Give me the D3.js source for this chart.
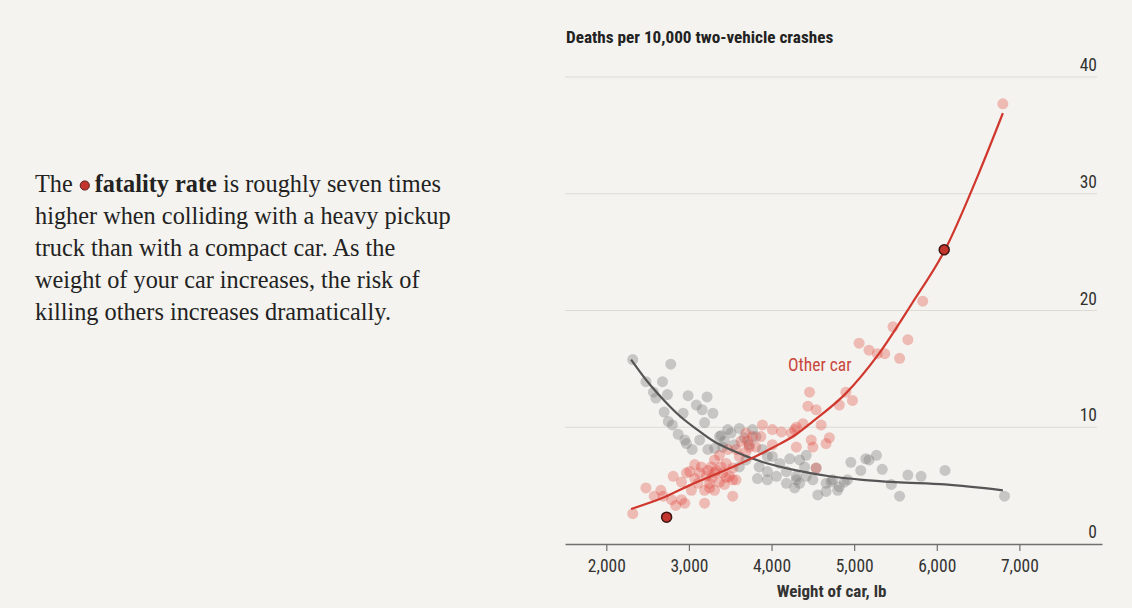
<!DOCTYPE html>
<html><head><meta charset="utf-8">
<script src="https://cdn.jsdelivr.net/npm/d3@7"></script>
<style>
body{margin:0;background:#f4f3ef;}
svg{display:block;}
.sans{font-family:'Roboto Condensed','Liberation Sans Narrow',Roboto,sans-serif;}
</style></head><body>
<svg id="c" width="1132" height="608"></svg>
<script>
// ---------- data ----------
const xTicks = [2000, 3000, 4000, 5000, 6000, 7000];
const yTicks = [0, 10, 20, 30, 40];

// "Your car" (gray) scatter
const grayWeights = [2320,2780,2480,2680,2570,2740,2600,2990,3220,3090,3160,3290,2700,2930,2750,3190,2800,2870,2950,3390,3470,3430,3510,3130,3230,3410,2970,3770,3810,3890,4010,4100,4220,4340,4420,3850,3950,4060,4180,4340,4420,4540,4500,4660,4740,4800,4560,4660,4960,5080,5140,3690,3610,4180,3550,3950,3830,3950,4300,4820,4920,4280,5180,5270,5340,5450,5550,5650,5810,6100,6820,4720,4880,4300,4400,3370,3610,3670,3730,3310,3040];
const grayRates   = [15.8,15.4,13.9,13.9,13.0,12.8,12.5,12.7,12.6,11.9,11.5,11.2,11.3,11.2,10.5,10.4,10.2,9.4,8.9,9.3,9.8,8.8,9.5,8.9,8.1,8.3,8.6,9.8,9.2,8.1,7.5,6.9,7.3,7.2,7.6,6.6,6.2,5.8,6.2,5.2,5.8,6.5,5.5,5.2,5.5,4.6,4.2,4.5,7.0,6.3,7.3,7.2,6.6,5.2,8.5,7.5,5.6,5.5,5.5,4.9,5.5,4.8,7.2,7.6,6.4,5.1,4.1,5.9,5.8,6.3,4.1,5.3,5.3,5.8,6.6,9.2,9.9,9.1,8.5,8.2,8.1];

// "Other car" (red) scatter
const redWeights = [2320,2480,2660,2810,2910,2970,3070,3150,3230,3310,3390,2580,2690,2790,2910,2950,3190,3030,3110,3250,3310,3430,3490,3070,3210,3010,3130,3330,3410,3250,3570,3530,3610,3690,3810,3870,3890,4010,4120,4240,4300,4480,4500,4440,4460,4540,4600,4660,4700,4900,4980,4540,3690,3770,3730,3630,3570,3470,3370,3310,3450,3270,3530,4300,4380,3710,4010,3530,4820,5830,5470,5650,5060,5180,5280,5370,5550,4280,6800,2840,3280,3370,3450,3190];
const redRates   = [2.6,4.8,4.6,5.8,5.3,6.1,6.8,6.6,6.3,6.1,6.6,4.1,4.1,3.8,3.8,3.5,3.5,4.6,5.2,5.2,4.6,5.1,5.8,5.6,5.8,6.2,6.1,6.3,6.1,4.8,5.5,4.1,7.5,7.9,8.3,9.2,10.2,9.8,9.6,9.5,8.3,8.9,8.3,11.8,13.0,11.5,10.2,8.6,9.1,13.0,12.3,6.5,9.5,9.2,8.3,8.8,8.1,8.1,7.6,7.2,6.9,6.6,6.5,10.0,10.3,8.8,8.5,5.5,11.9,20.8,18.6,17.5,17.2,16.6,16.3,16.3,15.9,9.8,37.7,3.3,5.7,5.3,5.7,4.6];

// fitted curves
const redCurveWeights  = [2300,2700,3000,3500,4000,4300,4500,4900,5300,5700,6100,6500,6800];
const redCurveRates    = [3.0,4.0,5.0,6.5,8.2,9.4,10.5,12.9,16.3,20.6,25.2,31.6,36.9];
const grayCurveWeights = [2300,2500,2700,2900,3100,3300,3500,3900,4300,4700,5100,5500,6100,6800];
const grayCurveRates   = [15.8,13.9,12.3,10.9,9.8,8.8,8.1,7.0,6.3,5.8,5.5,5.3,5.1,4.6];

// highlighted points
const highlightWeights = [2730, 6090];
const highlightRates   = [2.3, 25.2];

const titleText = "Deaths per 10,000 two-vehicle crashes";
const xTitle = "Weight of car, lb";
const seriesLabel = "Other car";

// ---------- drawing ----------
const svg = d3.select("#c");
const x = d3.scaleLinear().domain([1500, 8000]).range([565, 1102]);
const y = d3.scaleLinear().domain([0, 40]).range([544, 77]);
const gridRight = 1097;
const sansFont = "'Roboto Condensed','Liberation Sans Narrow',Roboto,sans-serif";

// gridlines
svg.append("g").selectAll("line").data(yTicks.filter(d => d > 0)).join("line")
  .attr("x1", x.range()[0]).attr("x2", gridRight)
  .attr("y1", d => y(d)).attr("y2", d => y(d))
  .attr("stroke", "#dcdbd5").attr("stroke-width", 1);

// y labels
svg.append("g").attr("class", "sans").selectAll("text").data(yTicks).join("text")
  .attr("x", gridRight).attr("y", d => y(d) - 6)
  .attr("text-anchor", "end").attr("font-size", 17.5).attr("fill", "#333")
  .text(d => d);

// x axis
const xAxis = svg.append("g").attr("transform", `translate(0,${y(0)})`)
  .call(d3.axisBottom(x).tickValues(xTicks).tickFormat(d3.format(",")).tickSize(7).tickSizeOuter(0));
xAxis.select(".domain").attr("stroke", "#6f6f6f").attr("stroke-width", 1.6);
xAxis.selectAll(".tick line").attr("stroke", "#6f6f6f").attr("stroke-width", 1.2);
xAxis.selectAll(".tick text").attr("font-size", 17.5).attr("fill", "#333").attr("dy", "1.05em")
  .attr("font-family", sansFont);

svg.append("text").attr("class", "sans").attr("x", (x(1500) + x(8000)) / 2 - 2).attr("y", 597)
  .attr("text-anchor", "middle").attr("font-size", 17).attr("font-weight", "bold").attr("fill", "#333")
  .text(xTitle);

svg.append("text").attr("class", "sans").attr("x", 566).attr("y", 43)
  .attr("font-size", 17.2).attr("font-weight", "bold").attr("fill", "#222")
  .text(titleText);

// scatter
const gray = grayWeights.map((w, i) => [w, grayRates[i]]);
const red = redWeights.map((w, i) => [w, redRates[i]]);

svg.append("g").selectAll("circle").data(gray).join("circle")
  .attr("cx", d => x(d[0])).attr("cy", d => y(d[1])).attr("r", 5.5)
  .attr("fill", "#7f7f7f").attr("fill-opacity", 0.38);

svg.append("g").selectAll("circle").data(red).join("circle")
  .attr("cx", d => x(d[0])).attr("cy", d => y(d[1])).attr("r", 5.5)
  .attr("fill", "#e2473d").attr("fill-opacity", 0.33);

// curves
const line = d3.line().x(d => x(d[0])).y(d => y(d[1])).curve(d3.curveMonotoneX);
svg.append("path").datum(grayCurveWeights.map((w, i) => [w, grayCurveRates[i]]))
  .attr("d", line).attr("fill", "none").attr("stroke", "#555").attr("stroke-width", 2.2);
svg.append("path").datum(redCurveWeights.map((w, i) => [w, redCurveRates[i]]))
  .attr("d", line).attr("fill", "none").attr("stroke", "#d0382e").attr("stroke-width", 2.2);

// highlight points
svg.append("g").selectAll("circle").data(highlightWeights.map((w, i) => [w, highlightRates[i]])).join("circle")
  .attr("cx", d => x(d[0])).attr("cy", d => y(d[1])).attr("r", 5)
  .attr("fill", "#c4352d").attr("stroke", "#3b1512").attr("stroke-width", 1.5);

// series label
svg.append("text").attr("class", "sans").attr("x", x(4200)).attr("y", y(14.8))
  .attr("font-size", 17.5).attr("fill", "#c9463d").text(seriesLabel);

// ---------- left text ----------
const serif = "'Liberation Serif','DejaVu Serif',serif";
const fs = 24.3, lx = 35, base = 192, lh = 32;
const t1 = svg.append("text").attr("x", lx).attr("y", base).attr("font-family", serif)
  .attr("font-size", fs).attr("fill", "#222").text("The");
const w1 = t1.node().getComputedTextLength();
svg.append("circle").attr("cx", lx + w1 + 12).attr("cy", base - 6.5).attr("r", 4.6)
  .attr("fill", "#c4352d").attr("stroke", "#5a1f1a").attr("stroke-width", 1);
const t2 = svg.append("text").attr("x", lx + w1 + 22).attr("y", base).attr("font-family", serif)
  .attr("font-size", fs).attr("fill", "#222");
t2.append("tspan").attr("font-weight", "bold").text("fatality rate");
t2.append("tspan").text(" is roughly seven times");
const rest = ["higher when colliding with a heavy pickup",
  "truck than with a compact car. As the",
  "weight of your car increases, the risk of",
  "killing others increases dramatically."];
svg.append("g").selectAll("text").data(rest).join("text")
  .attr("x", lx).attr("y", (d, i) => base + lh * (i + 1))
  .attr("font-family", serif).attr("font-size", fs).attr("fill", "#222").text(d => d);
</script>
</body></html>
